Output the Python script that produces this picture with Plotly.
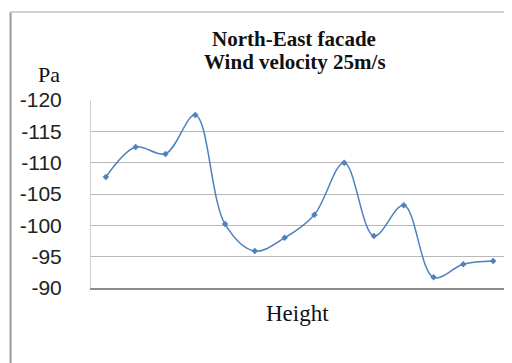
import plotly.graph_objects as go

# Data
height_points = list(range(1, 15))
pressure_pa = [-107.7, -112.5, -111.4, -117.6, -100.2, -95.9, -98.0,
               -101.7, -110.0, -98.3, -103.2, -91.7, -93.8, -94.3]
y_ticks = [-120, -115, -110, -105, -100, -95, -90]

fig = go.Figure()
fig.add_trace(go.Scatter(
    x=height_points, y=pressure_pa,
    mode="lines+markers",
    line=dict(color="#4F81BD", width=1.5, shape="spline", smoothing=1.0),
    marker=dict(symbol="diamond", size=5, color="#4F81BD"),
    showlegend=False,
))

OFF = 8  # page body margin
W, H = 512, 363
L, T = 88 - OFF, 100 - OFF
R = W - (508 - OFF)
B = H - (288 - OFF)
pw, ph = W - L - R, H - T - B

def px(xs):
    return (xs - OFF - L) / pw

def py(ys):
    return (H - B - (ys - OFF)) / ph

fig.update_layout(
    width=W, height=H,
    margin=dict(l=L, r=R, t=T, b=B),
    paper_bgcolor="white", plot_bgcolor="white",
    xaxis=dict(range=[0.5, 14.5], showticklabels=False, showgrid=False,
               zeroline=False, showline=True, linecolor="#8c8c8c", linewidth=2,
               ticks=""),
    yaxis=dict(range=[-90, -120], tickvals=y_ticks,
               ticktext=[str(v) for v in y_ticks],
               showgrid=True, gridcolor="#b8b8b8", gridwidth=1,
               zeroline=False, showline=True, linecolor="#d0d0d0", linewidth=1,
               ticks="", ticklabelstandoff=24,
               tickfont=dict(family="Liberation Sans", size=21, color="#222")),
    annotations=[
        dict(text="<b>North-East facade</b>", x=px(292), y=py(39), xref="paper", yref="paper",
             showarrow=False, font=dict(family="Liberation Serif", size=21, color="#111"),
             xanchor="center", yanchor="middle"),
        dict(text="<b>Wind velocity 25m/s</b>", x=px(293), y=py(62), xref="paper", yref="paper",
             showarrow=False, font=dict(family="Liberation Serif", size=21, color="#111"),
             xanchor="center", yanchor="middle"),
        dict(text="Pa", x=px(46), y=py(74), xref="paper", yref="paper",
             showarrow=False, font=dict(family="Liberation Serif", size=22, color="#111"),
             xanchor="center", yanchor="middle"),
        dict(text="Height", x=px(296), y=py(313), xref="paper", yref="paper",
             showarrow=False, font=dict(family="Liberation Serif", size=23, color="#111"),
             xanchor="center", yanchor="middle"),
    ],
    shapes=[
        dict(type="line", xref="paper", yref="paper", x0=px(7), x1=px(7), y0=py(12), y1=py(380),
             line=dict(color="#9a9a9a", width=2)),
        dict(type="line", xref="paper", yref="paper", x0=px(7), x1=px(530), y0=py(12), y1=py(12),
             line=dict(color="#c0c0c0", width=1.5)),
    ],
)

fig.write_html("out.html")
